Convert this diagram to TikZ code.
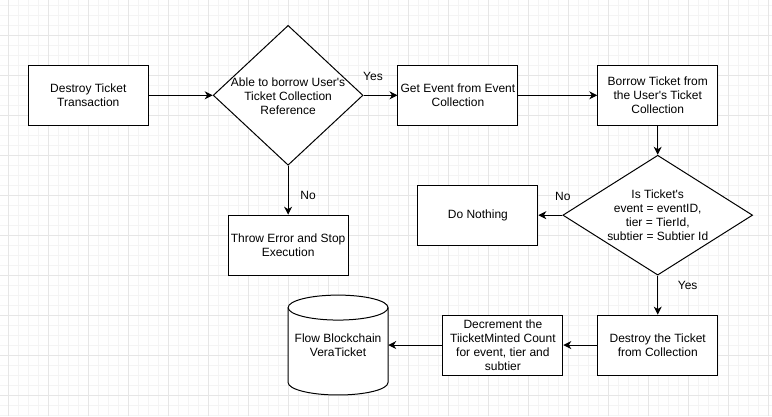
\documentclass[tikz,border=0pt]{standalone}
\usepackage{fontspec}
\setmainfont{Liberation Sans}[Ligatures=TeXOff]
\usetikzlibrary{shapes.geometric,arrows.meta}
\definecolor{gridminor}{HTML}{F4F4F4}
\definecolor{gridmajor}{HTML}{E6E6E6}
\begin{document}
\begin{tikzpicture}[x=1pt,y=-1pt,
  txt/.style={font=\fontsize{12}{14}\selectfont},
  box/.style={draw, line width=1pt, minimum width=120pt, minimum height=60pt, inner sep=0pt, align=center, txt},
  decision/.style={draw, diamond, line width=1pt, inner sep=0pt, fill=white},
  arr/.style={line width=1pt, -{Stealth[length=8pt,width=8pt,inset=2.5pt]}},
  lbl/.style={txt, inner sep=0pt},
  minorline/.style={gridminor, line width=0.7pt},
  majorline/.style={gridmajor, line width=0.8pt}]
% background and grid
\fill[white] (0,0) rectangle (772,416);
\foreach \i in {0,...,76} \draw[minorline] (8.3+10*\i,0) -- (8.3+10*\i,416);
\foreach \j in {0,...,41} \draw[minorline] (0,5+10*\j) -- (772,5+10*\j);
\foreach \i in {0,...,19} \draw[majorline] (8.3+40*\i,0) -- (8.3+40*\i,416);
\foreach \j in {1,...,10} \draw[majorline] (0,-5+40*\j) -- (772,-5+40*\j);
\useasboundingbox (0,0) rectangle (772,416);

% nodes
\node[box, fill=white] (start) at (88,95) {Destroy Ticket\\Transaction};
\node[decision, minimum width=150pt, minimum height=140pt] (d1) at (288,95) {};
\node[lbl, align=center] (d1t) at (288,96) {Able to borrow User's\\Ticket Collection\\Reference};
\node[box, fill=white] (getev) at (458,95) {Get Event from Event\\Collection};
\node[box, fill=white] (borrow) at (658,95) {Borrow Ticket from\\the User's Ticket\\Collection};
\node[decision, minimum width=190pt, minimum height=120pt] (d2) at (658,215) {};
\node[lbl, align=center] (d2t) at (658,215) {Is Ticket's\\event = eventID,\\tier = TierId,\\subtier = Subtier Id};
\node[box, fill=white] (nothing) at (478,215) {Do Nothing};
\node[box, fill=white] (throw) at (288,245) {Throw Error and Stop\\Execution};
\node[box, fill=white] (destroy) at (658,345) {Destroy the Ticket\\from Collection};
\node[box, fill=white] (decr) at (503,345) {Decrement the\\TiicketMinted Count\\for event, tier and\\subtier};

% cylinder
\coordinate (cyltl) at (288,307.5);
\coordinate (cylbl) at (288,382.5);
\coordinate (cylbr) at (388,382.5);
\coordinate (cyltr) at (388,307.5);
\draw[line width=1pt, fill=white] (cyltl) -- (cylbl)
  arc[start angle=180, end angle=360, x radius=50pt, y radius=12.5pt] -- (cyltr)
  arc[start angle=0, end angle=180, x radius=50pt, y radius=12.5pt] -- cycle;
\draw[line width=1pt] (cyltl) arc[start angle=180, end angle=360, x radius=50pt, y radius=12.5pt];
\node[lbl, align=center, minimum width=100pt, minimum height=100pt] (db) at (338,345) {Flow Blockchain\\VeraTicket};

% connectors
\draw[arr] (start.east) -- (d1.west);
\draw[arr] (d1.east) -- (getev.west);
\draw[arr] (getev.east) -- (borrow.west);
\draw[arr] (borrow.south) -- (d2.north);
\draw[arr] (d2.west) -- (nothing.east);
\draw[arr] (d2.south) -- (destroy.north);
\draw[arr] (d1.south) -- (throw.north);
\draw[arr] (destroy.west) -- (decr.east);
\draw[arr] (decr.west) -- (db.east);

% edge labels
\node[lbl] (yes1) at (373,76) {Yes};
\node[lbl] (no1) at (308,195) {No};
\node[lbl] (no2) at (563,196) {No};
\node[lbl] (yes2) at (688,285) {Yes};
\end{tikzpicture}
\end{document}
